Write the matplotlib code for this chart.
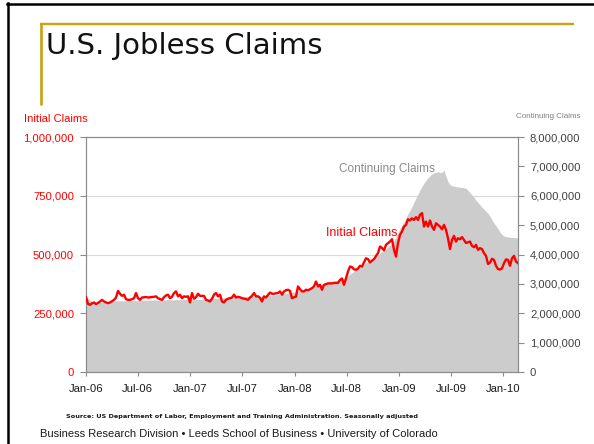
import matplotlib
matplotlib.use('Agg')
import matplotlib.pyplot as plt
import matplotlib.dates as mdates
from matplotlib.lines import Line2D
from matplotlib.ticker import FuncFormatter, FixedLocator
import numpy as np
import pandas as pd

# ---------------- data ----------------
first_week = '2006-01-01'
# weekly initial claims, thousands (seasonally adjusted)
initial_claims_k = [
    319, 290, 286, 292, 296, 289, 294, 300, 307, 300, 296, 293, 296, 301, 307, 317,
    345, 333, 324, 329, 310, 307, 307, 310, 314, 336, 314, 307, 317, 318, 319, 317,
    318, 319, 320, 322, 314, 310, 307, 318, 326, 329, 314, 320, 336, 343, 322, 329,
    314, 322, 320, 322, 296, 336, 312, 318, 333, 324, 324, 324, 307, 304, 300, 312,
    329, 336, 322, 329, 300, 296, 307, 312, 314, 317, 329, 317, 320, 318, 314, 312,
    310, 307, 317, 324, 336, 322, 322, 316, 300, 322, 317, 328, 338, 333, 333, 335,
    336, 343, 329, 343, 348, 350, 345, 314, 318, 321, 364, 352, 343, 343, 350, 348,
    352, 357, 364, 385, 364, 371, 350, 371, 374, 377, 377, 377, 379, 379, 379, 392,
    398, 371, 398, 428, 449, 446, 437, 435, 440, 452, 449, 466, 484, 480, 466, 474,
    480, 494, 506, 534, 528, 518, 541, 548, 555, 565, 520, 491, 548, 584, 598, 619,
    626, 650, 645, 654, 647, 659, 647, 669, 676, 619, 640, 619, 645, 619, 605, 633,
    626, 619, 607, 626, 605, 569, 523, 562, 579, 555, 569, 565, 574, 562, 549, 552,
    555, 537, 531, 541, 520, 527, 523, 506, 494, 460, 466, 482, 477, 452, 438, 436,
    441, 463, 479, 477, 452, 484, 494, 470, 463,
]
# weekly continuing claims, millions
continuing_claims_m = [
    2.55, 2.50, 2.44, 2.40, 2.38, 2.37, 2.38, 2.37, 2.38, 2.36, 2.37, 2.38, 2.39, 2.40, 2.41, 2.42,
    2.43, 2.42, 2.43, 2.42, 2.43, 2.44, 2.43, 2.44, 2.44, 2.43, 2.44, 2.45, 2.44, 2.45, 2.44, 2.45,
    2.44, 2.45, 2.46, 2.45, 2.44, 2.45, 2.46, 2.45, 2.46, 2.47, 2.46, 2.45, 2.46, 2.47, 2.46, 2.47,
    2.46, 2.47, 2.48, 2.49, 2.50, 2.49, 2.48, 2.47, 2.48, 2.47, 2.48, 2.49, 2.50, 2.49, 2.50, 2.51,
    2.52, 2.51, 2.52, 2.53, 2.52, 2.53, 2.54, 2.55, 2.54, 2.55, 2.56, 2.57, 2.56, 2.57, 2.56, 2.57,
    2.58, 2.57, 2.58, 2.57, 2.58, 2.59, 2.58, 2.57, 2.58, 2.59, 2.60, 2.61, 2.62, 2.61, 2.62, 2.63,
    2.64, 2.65, 2.66, 2.67, 2.68, 2.69, 2.70, 2.71, 2.72, 2.73, 2.75, 2.76, 2.78, 2.79, 2.81, 2.83,
    2.85, 2.87, 2.89, 2.92, 2.94, 2.96, 2.99, 3.02, 3.05, 3.07, 3.08, 3.09, 3.10, 3.11, 3.12, 3.14,
    3.17, 3.20, 3.24, 3.28, 3.33, 3.38, 3.43, 3.48, 3.53, 3.58, 3.62, 3.67, 3.71, 3.75, 3.79, 3.83,
    3.88, 3.93, 3.98, 4.04, 4.10, 4.15, 4.20, 4.26, 4.32, 4.39, 4.46, 4.60, 4.75, 4.88, 5.00, 5.12,
    5.25, 5.38, 5.50, 5.64, 5.78, 5.92, 6.06, 6.20, 6.32, 6.43, 6.53, 6.62, 6.68, 6.74, 6.78, 6.80,
    6.82, 6.80, 6.79, 6.88, 6.65, 6.48, 6.38, 6.34, 6.33, 6.31, 6.30, 6.29, 6.28, 6.27, 6.25, 6.18,
    6.10, 6.03, 5.95, 5.85, 5.77, 5.69, 5.61, 5.54, 5.47, 5.40, 5.30, 5.18, 5.07, 4.98, 4.88, 4.76,
    4.68, 4.63, 4.61, 4.60, 4.59, 4.58, 4.58, 4.57, 4.56,
]
left_ticks = [0, 250000, 500000, 750000, 1000000]
right_ticks = [0, 1000000, 2000000, 3000000, 4000000, 5000000, 6000000, 7000000, 8000000]
x_tick_dates = pd.date_range('2006-01-01', '2010-01-01', freq='6MS')

title = 'U.S. Jobless Claims'
left_axis_title = 'Initial Claims'
right_axis_title = 'Continuing Claims'
source_text = ('Source: US Department of Labor, Employment and Training Administration. '
               'Seasonally adjusted')
footer_text = ('Business Research Division \u2022 Leeds School of Business \u2022 '
               'University of Colorado')

# ---------------- style ----------------
W, H = 594, 444
FONT = ['Liberation Sans', 'DejaVu Sans']
RED = '#ff0000'
GRAY_FILL = '#cccccc'
SPINE = '#8c8c8c'
GOLD = '#c9a20c'

dates = pd.date_range(first_week, periods=len(initial_claims_k), freq='7D')
initial = np.array(initial_claims_k) * 1000
continuing = np.array(continuing_claims_m) * 1e6

fig = plt.figure(figsize=(W / 100, H / 100), dpi=100)
fig.patch.set_facecolor('white')


def fx(x):
    return x / W


def fy(y):
    return 1 - y / H


ax2 = fig.add_axes([fx(86), fy(372), fx(518) - fx(86), fy(137) - fy(372)])
ax = ax2.twinx()
# ax2: right axis (continuing claims, gray area); ax: left (initial claims, red line)
ax.yaxis.tick_left()
ax.yaxis.set_label_position('left')
ax2.yaxis.tick_right()
ax2.yaxis.set_label_position('right')

ax2.set_zorder(1)
ax.set_zorder(2)
ax.patch.set_visible(False)

ax2.fill_between(dates, 0, continuing, color=GRAY_FILL, linewidth=0, zorder=2)
ax.plot(dates, initial, color=RED, linewidth=1.7, solid_joinstyle='round', zorder=3)

ax.set_xlim(dates[0], dates[-1])
ax2.set_xlim(dates[0], dates[-1])
ax.set_ylim(0, left_ticks[-1])
ax2.set_ylim(0, right_ticks[-1])

TICK_SIZE = 8.1

# left axis ticks
ax.yaxis.set_major_locator(FixedLocator(left_ticks))
ax.yaxis.set_major_formatter(FuncFormatter(lambda v, p: f'{v:,.0f}'))
ax.tick_params(axis='y', which='major', direction='out', length=4.3, width=0.8,
               color=SPINE, pad=4.3, labelcolor=RED, labelsize=TICK_SIZE)
for lab in ax.get_yticklabels():
    lab.set_family(FONT)

# right axis: major at even millions (grid), minor at odd millions
major_r = right_ticks[::2]
minor_r = right_ticks[1::2]
ax2.yaxis.set_major_locator(FixedLocator(major_r))
ax2.yaxis.set_minor_locator(FixedLocator(minor_r))
fmt = FuncFormatter(lambda v, p: f'{v:,.0f}')
ax2.yaxis.set_major_formatter(fmt)
ax2.yaxis.set_minor_formatter(fmt)
for which in ('major', 'minor'):
    ax2.tick_params(axis='y', which=which, direction='out', length=4.3, width=0.8,
                    color=SPINE, pad=4.3, labelcolor='#404040', labelsize=TICK_SIZE,
                    right=True, labelright=True, left=False, labelleft=False)
for lab in ax2.get_yticklabels(which='both'):
    lab.set_family(FONT)
ax2.grid(axis='y', which='major', color='#d9d9d9', linewidth=0.8, zorder=0)
ax2.set_axisbelow(True)

# x axis
ax2.xaxis.set_major_locator(FixedLocator(mdates.date2num(x_tick_dates)))
ax2.xaxis.set_major_formatter(mdates.DateFormatter('%b-%y'))
ax2.tick_params(axis='x', direction='out', length=3, width=0.8, color=SPINE,
                pad=5.5, labelcolor='#1a1a1a', labelsize=TICK_SIZE)
for lab in ax2.get_xticklabels():
    lab.set_family(FONT)
ax.tick_params(axis='x', bottom=False, labelbottom=False)

for a in (ax, ax2):
    for s in a.spines.values():
        s.set_color(SPINE)
        s.set_linewidth(0.8)

# ---------------- texts ----------------
fig.text(fx(46), fy(54), title, fontsize=21, family='DejaVu Sans', color='#111111',
         ha='left', va='baseline')
fig.text(fx(24), fy(121.7), left_axis_title, fontsize=8.1, family=FONT, color=RED,
         ha='left', va='baseline')
fig.text(fx(580), fy(118.3), right_axis_title, fontsize=5.8, family=FONT, color='#808080',
         ha='right', va='baseline')
fig.text(fx(339), fy(172.3), 'Continuing Claims', fontsize=8.5, family=FONT,
         color='#8a8a8a', ha='left', va='baseline')
fig.text(fx(326.5), fy(236), 'Initial Claims', fontsize=9, family=FONT, color=RED,
         ha='left', va='baseline')
fig.text(fx(66), fy(418.3), source_text, fontsize=4.66, family='DejaVu Sans',
         fontweight='bold', color='#1a1a1a', ha='left', va='baseline')
fig.text(fx(40), fy(436.5), footer_text, fontsize=8.05, family='Liberation Sans',
         color='#1a1a1a', ha='left', va='baseline')

# ---------------- slide decorations ----------------
fig.add_artist(Line2D([fx(7), fx(594)], [fy(4.5), fy(4.5)], color='black',
                      linewidth=1.8, transform=fig.transFigure))
fig.add_artist(Line2D([fx(8), fx(8)], [fy(3.5), fy(444)], color='black',
                      linewidth=1.8, transform=fig.transFigure))
fig.add_artist(Line2D([fx(40), fx(574)], [fy(23.8), fy(23.8)], color=GOLD,
                      linewidth=1.7, transform=fig.transFigure, solid_capstyle='butt'))
fig.add_artist(Line2D([fx(41.3), fx(41.3)], [fy(22.7), fy(105)], color=GOLD,
                      linewidth=1.9, transform=fig.transFigure, solid_capstyle='butt'))

fig.savefig('out.png', dpi=100)
